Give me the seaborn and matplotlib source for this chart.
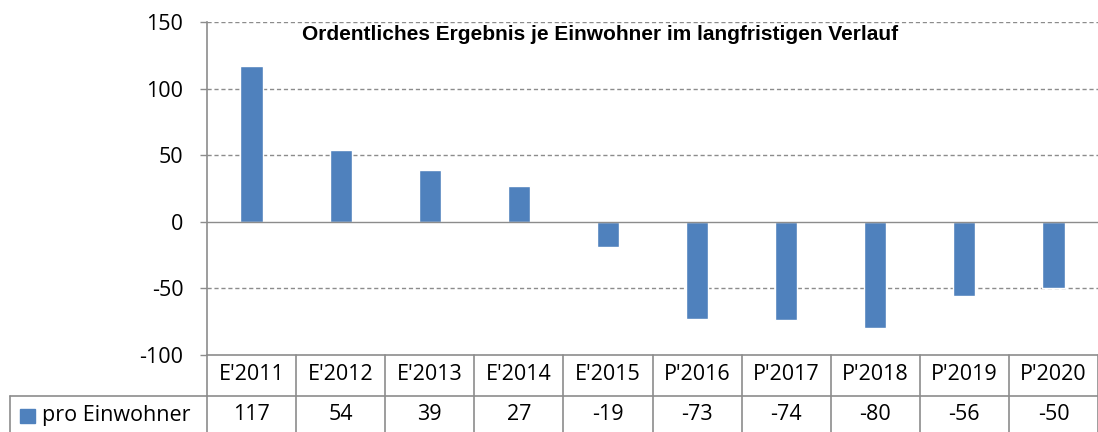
import matplotlib
matplotlib.use('Agg')
import matplotlib.pyplot as plt
import matplotlib.transforms as mtransforms
from matplotlib.patches import Rectangle
import seaborn as sns
import pandas as pd

# Daten
categories = ["E'2011", "E'2012", "E'2013", "E'2014", "E'2015",
              "P'2016", "P'2017", "P'2018", "P'2019", "P'2020"]
values = [117, 54, 39, 27, -19, -73, -74, -80, -56, -50]
series_name = 'pro Einwohner'
title = 'Ordentliches Ergebnis je Einwohner im langfristigen Verlauf'
yticks = [-100, -50, 0, 50, 100, 150]

BAR_COLOR = '#4F81BD'
LINE_COLOR = '#8C8C8C'
W, H = 1098, 432
FS = 15.5

sns.set_theme(style='white')
plt.rcParams['font.family'] = ['Open Sans', 'DejaVu Sans']
plt.rcParams['text.color'] = 'black'

df = pd.DataFrame({'cat': categories, 'val': values})

fig = plt.figure(figsize=(W / 100, H / 100), dpi=100)
ax = fig.add_axes([207 / W, (H - 355) / H, (W - 207) / W, (355 - 22) / H])

sns.barplot(data=df, x='cat', y='val', color=BAR_COLOR, width=0.25,
            saturation=1, ax=ax)

ax.set_ylim(-100, 150)
ax.set_xlim(-0.5, len(categories) - 0.5)
ax.set_yticks(yticks)
ax.set_yticklabels([str(t) for t in yticks], fontsize=FS)
ax.set_xticks([])
ax.set_xlabel('')
ax.set_ylabel('')
ax.tick_params(axis='y', length=5, width=1, color=LINE_COLOR, pad=12,
               left=True, labelcolor='black')

for t in yticks:
    if t == 0:
        ax.axhline(0, color=LINE_COLOR, lw=1, zorder=1)
    elif t > -100:
        ax.axhline(t, color=LINE_COLOR, lw=1, ls=(0, (3, 2)), zorder=0)

for side in ['top', 'right', 'bottom']:
    ax.spines[side].set_visible(False)
ax.spines['left'].set_color(LINE_COLOR)
ax.spines['left'].set_linewidth(1.2)

fig.text(600 / W, 1 - 35 / H, title, ha='center', va='center', color='black',
         fontsize=15, fontweight='bold', family='Liberation Sans')

# Datentabelle unter dem Diagramm
trans = mtransforms.blended_transform_factory(ax.transData, fig.transFigure)
y_top = 1 - 355 / H
y_mid = 1 - 396 / H
y_bot = 1 - 440 / H
n = len(categories)
line_kw = dict(color=LINE_COLOR, lw=1.2, clip_on=False)

ax.plot([-0.5, n - 0.5], [y_top, y_top], transform=trans, **line_kw)
ax.plot([-0.5, n - 0.5], [y_mid, y_mid], transform=trans, **line_kw)
fig.add_artist(plt.Line2D([10 / W, 207 / W], [y_mid, y_mid], **line_kw))
fig.add_artist(plt.Line2D([10 / W, 10 / W], [y_mid, y_bot], **line_kw))
for i in range(n + 1):
    ax.plot([i - 0.5, i - 0.5], [y_top, y_bot], transform=trans, **line_kw)

for i, (c, v) in enumerate(zip(categories, values)):
    ax.text(i, 1 - 375 / H, c, transform=trans, ha='center', va='center',
            fontsize=FS, color='black')
    ax.text(i, 1 - 415 / H, str(v), transform=trans, ha='center', va='center',
            fontsize=FS, color='black')

fig.add_artist(Rectangle((20 / W, 1 - 423 / H), 15 / W, 14 / H,
                         transform=fig.transFigure, color=BAR_COLOR))
fig.text(42 / W, 1 - 415 / H, series_name, ha='left', va='center',
         fontsize=FS, color='black')

fig.savefig('out.png', dpi=100)
